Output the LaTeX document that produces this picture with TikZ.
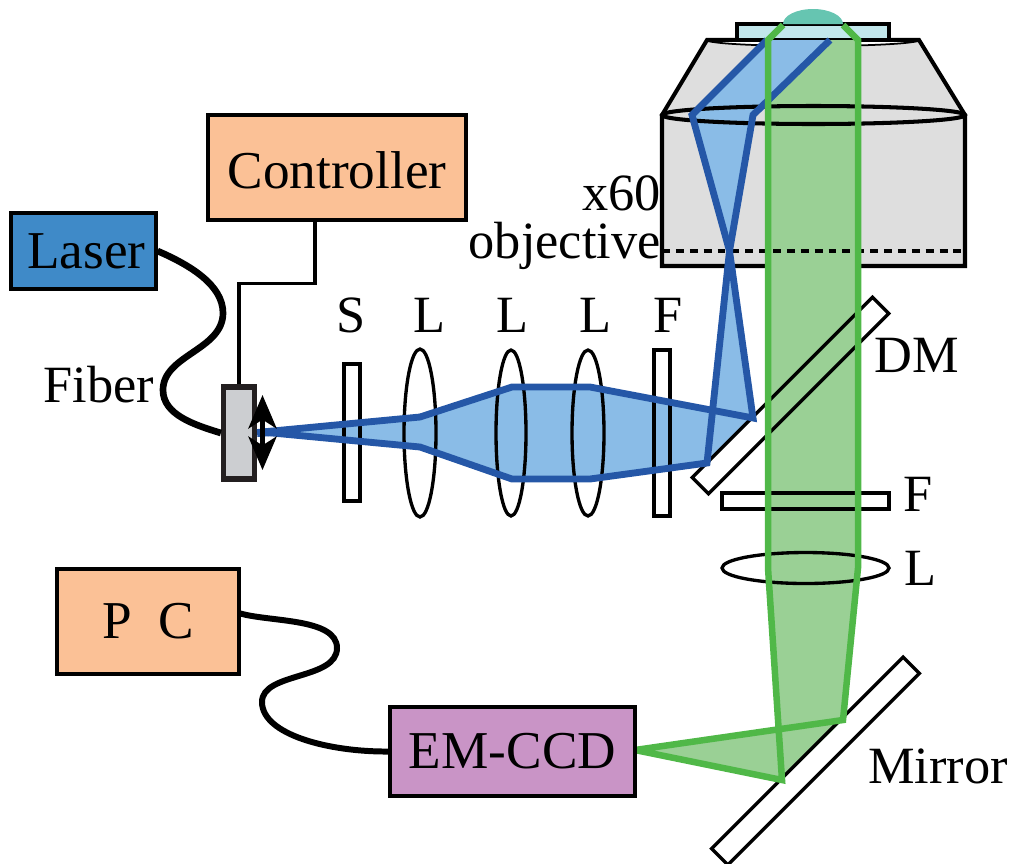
\documentclass[tikz,border=0pt]{standalone}
\usepackage{fontspec}
\setmainfont{Liberation Serif}
\usepackage{tikz}
\usetikzlibrary{positioning,calc,shapes.geometric,arrows.meta}
\definecolor{laserblue}{HTML}{3F8AC8}
\definecolor{boxorange}{HTML}{FBC196}
\definecolor{ccdpurple}{HTML}{C994C6}
\definecolor{beamblue}{HTML}{2557A7}
\definecolor{fillblue}{HTML}{8ABCE7}
\definecolor{beamgreen}{HTML}{50B848}
\definecolor{fillgreen}{HTML}{9AD095}
\definecolor{objgray}{HTML}{DEDEDE}
\definecolor{slidecyan}{HTML}{C2E7EC}
\definecolor{dropteal}{HTML}{66C5B1}
\tikzset{
	unitbox/.style={draw=black,line width=1.8pt,inner sep=0pt,font=\fontsize{30.3}{30}\selectfont},
	plate/.style={draw=black,line width=1.9pt,inner sep=0pt,minimum width=#1},
	lens/.style={ellipse,draw=black,line width=1.9pt,inner sep=0pt},
	tag/.style={inner sep=0pt,font=\fontsize{29.8}{30}\selectfont},
	blueray/.style={draw=beamblue,line width=3.9pt,line join=miter},
	greenray/.style={draw=beamgreen,line width=3.7pt,line join=miter},
	cable/.style={draw=black,line width=3.4pt}
}
\begin{document}
\begin{tikzpicture}[x=0.02cm,y=-0.02cm]
	\useasboundingbox (0,0) rectangle (1013,863);
	% objective
	\draw[fill=objgray,line width=2.3pt,line join=miter] (662,115)--(707,40)--(919,40)--(965,115)--(965,266)--(662,266)--cycle;
	\draw[fill=white,line width=1pt] (707,40) arc[start angle=180,end angle=0,x radius=106,y radius=6]--cycle;
	\draw[line width=2.3pt] (707,40)--(919,40);
	\node[rectangle,draw=black,fill=slidecyan,line width=2.1pt,minimum width=3.04cm,minimum height=0.32cm,inner sep=0pt] (slide) at (813,32) {};
	\fill[dropteal] (783,24) arc[start angle=180,end angle=360,x radius=30,y radius=15]--cycle;

	% beam fills
	\fill[fillgreen] (768,40)--(858,40)--(858,568)--(843,720)--(635,750)--(782,780)--(768,568)--cycle;
	\fill[fillgreen] (843,720)--(782,780)--(775,725)--cycle;
	\fill[fillblue] (262,432)--(420,417)--(512,387)--(590,387)--(753,418)--(729.5,251)--(692,115)--(767,40)--(830,40)--(753,115)--(729.5,251)--(707,463)--(590,479)--(512,479)--(420,447)--cycle;
	\fill[fillblue] (753,418)--(729.5,251)--(707,463)--cycle;

	\node[ellipse,draw=black,line width=2.3pt,minimum width=6.06cm,minimum height=0.36cm,inner sep=0pt] (objlens) at (813.5,115) {};
	\draw[line width=2pt,dash pattern=on 4.5pt off 3.4pt] (662,251)--(965,251);

	% optics
	\node[plate=0.32cm,minimum height=2.74cm] (shutter) at (352,432.5) {};
	\node[lens,minimum width=0.64cm,minimum height=3.36cm] (lensa) at (420,433) {};
	\node[lens,minimum width=0.6cm,minimum height=3.32cm] (lensb) at (511,433) {};
	\node[lens,minimum width=0.64cm,minimum height=3.32cm] (lensc) at (588,433) {};
	\node[plate=0.32cm,minimum height=3.32cm] (filtera) at (662,433) {};
	\node[plate=3.34cm,minimum height=0.32cm] (filterb) at (805.5,501) {};
	\node[lens,minimum width=3.34cm,minimum height=0.62cm] (lensd) at (805.5,568) {};
	\node[plate=5.1cm,minimum height=0.46cm,rotate=45] (dm) at (790.5,395.5) {};
	\node[plate=5.42cm,minimum height=0.46cm,rotate=45] (mirror) at (815.5,761) {};

	% beam lines
	\draw[blueray] (262,432)--(420,417)--(512,387)--(590,387)--(753,418)--(729.5,251)--(692,115)--(767,40);
	\draw[blueray] (262,432)--(420,447)--(512,479)--(590,479)--(707,463)--(729.5,251)--(753,115)--(830,40);
	\draw[greenray] (783,25)--(768,40)--(768,568)--(782,780)--(635,750)--(843,720)--(858,568)--(858,40)--(843,25);

	% stage
	\node[draw={rgb,255:red,35;green,31;blue,32},fill={rgb,255:red,204;green,206;blue,209},line width=3pt,minimum width=0.62cm,minimum height=1.84cm,inner sep=0pt] (stage) at (239,433) {};
	\coordinate (beamstub) at (274,432);
	\draw[blueray,line width=4.5pt] (stage.east)--(beamstub);
	\coordinate (arrowtop) at (262.5,395);
	\coordinate (arrowbot) at (262.5,470);
	\draw[{Stealth[length=19pt,width=16pt,inset=5pt]}-{Stealth[length=19pt,width=16pt,inset=5pt]},line width=2.8pt] (arrowtop)--(arrowbot);

	% boxes
	\node[unitbox,fill=laserblue,minimum width=2.9cm,minimum height=1.52cm] (laser) at (83.5,251) {\hspace{3.5pt}Laser};
	\node[unitbox,fill=boxorange,minimum width=5.16cm,minimum height=2.1cm] (controller) at (337,167.5) {\raisebox{-1.7pt}[\height][\depth]{Controller}\hspace{3.5pt}};
	\node[unitbox,fill=boxorange,minimum width=3.64cm,minimum height=2.1cm] (pc) at (148,621.5) {P\hspace{0.5em}C};
	\node[unitbox,fill=ccdpurple,minimum width=4.9cm,minimum height=1.78cm] (ccd) at (512.5,751.5) {EM-CCD};

	% cables
	\draw[cable,line width=3.8pt] (laser.east) .. controls (190,265) and (223,285) .. (223,313) .. controls (223,350) and (163,355) .. (163,390) .. controls (163,415) and (195,425) .. (stage.west);
	\draw[line width=1.8pt] ($(controller.south)+(-22,0)$)--++(0,62)-|(stage.north);
	\draw[cable] ($(pc.east)+(0,-8)$) .. controls (270,622) and (337,618) .. (337,648) .. controls (337,680) and (262,672) .. (262,702) .. controls (262,735) and (330,752) .. (ccd.west);

	% labels
	\node[tag] (labs) at (351,315) {S};
	\node[tag] (labl1) at (429,315) {L};
	\node[tag] (labl2) at (512,315) {L};
	\node[tag] (labl3) at (595,315) {L};
	\node[tag] (labf1) at (668,315) {F};
	\node[tag] (labdm) at (917,355) {DM};
	\node[tag] (labf2) at (918,494) {F};
	\node[tag] (labl4) at (920,568) {L};
	\node[tag] (labmirror) at (938,766) {Mirror};
	\node[tag,anchor=east] (labx) at (661,193) {x60};
	\node[tag,anchor=east] (labobj) at (661,246) {objective};
	\node[tag] (labfiber) at (99,385) {Fiber};
\end{tikzpicture}
\end{document}
